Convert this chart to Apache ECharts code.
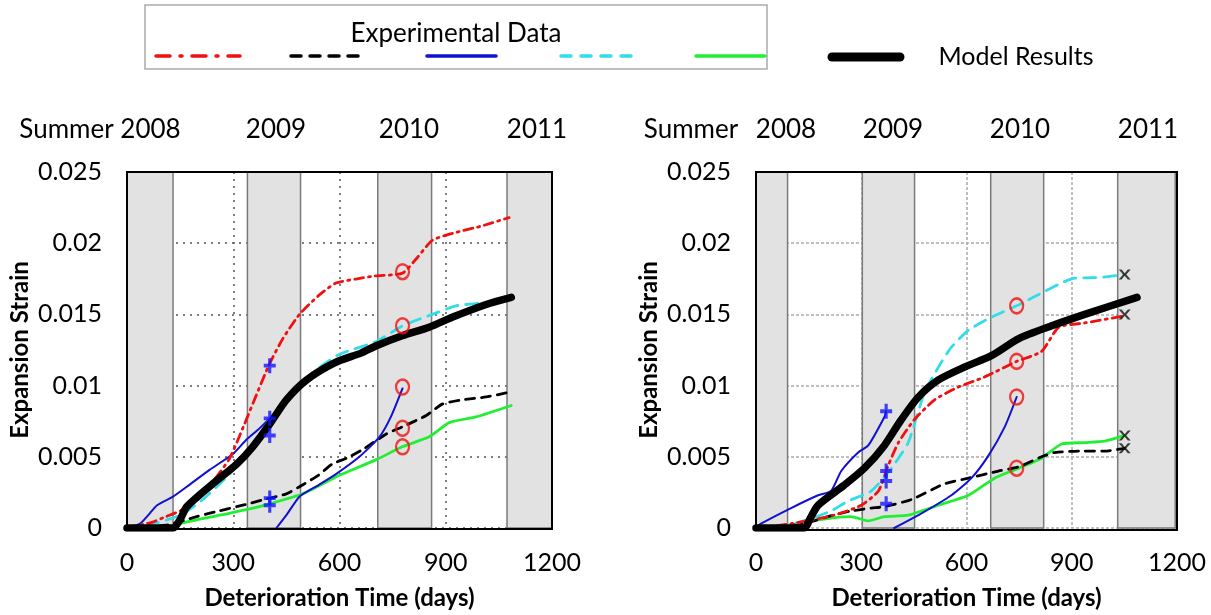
<!DOCTYPE html>
<html><head><meta charset="utf-8">
<script src="https://cdn.jsdelivr.net/npm/echarts@6/dist/echarts.min.js"></script>
<style>html,body{margin:0;padding:0;background:#fff}#c{width:1211px;height:615px}</style>
</head><body><div id="c"></div>
<script>
// ---------- data ----------
const yTickValues = [0, 0.005, 0.01, 0.015, 0.02, 0.025];
const xTickValues = [0, 300, 600, 900, 1200];
const leftTopLabels = ['Summer 2008', '2009', '2010', '2011'];
const rightTopLabels = ['Summer', '2008', '2009', '2010', '2011'];

const leftBands = [[0,130],[340,490],[708,860],[1073,1200]];
const rightBands = [[0,90],[303,452],[669,820],[1031,1195]];

const leftRed = [[0,0],[70,0.0004],[110,0.0008],[150,0.0012],[200,0.002],[250,0.0035],[290,0.0049],[330,0.0072],[400,0.0114],[440,0.0133],[487,0.015],[540,0.0163],[590,0.0172],[650,0.0175],[700,0.0177],[778,0.0179],[820,0.019],[862,0.0202],[920,0.0207],[1000,0.0212],[1079,0.0218]];
const leftBlack = [[0,0],[110,0.0002],[197,0.0008],[260,0.0012],[327,0.0016],[403,0.0021],[450,0.0024],[487,0.0029],[540,0.0037],[580,0.0045],[620,0.0049],[665,0.0055],[732,0.0066],[777,0.0071],[845,0.0079],[890,0.0087],[946,0.009],[1014,0.0092],[1073,0.0095]];
const leftBlue1 = [[0,0],[37,0.0003],[60,0.0009],[85,0.0016],[130,0.0022],[169,0.0029],[234,0.0041],[299,0.0052],[337,0.0062],[370,0.0069],[403,0.0077]];
const leftBlue2 = [[422,0],[450,0.0009],[487,0.0022],[540,0.003],[591,0.0038],[656,0.005],[713,0.0064],[745,0.0078],[778,0.0098]];
const leftCyan = [[0,0],[60,0.0002],[150,0.0009],[214,0.002],[290,0.0038],[350,0.0057],[420,0.0082],[480,0.0099],[540,0.0112],[600,0.0122],[704,0.0131],[778,0.0142],[862,0.015],[929,0.0156],[1000,0.0158],[1079,0.016]];
const leftGreen = [[130,0],[149,0.0003],[262,0.0009],[340,0.0013],[403,0.0017],[496,0.0024],[591,0.0036],[704,0.0048],[777,0.0057],[853,0.0064],[910,0.0074],[986,0.0078],[1085,0.0086]];
const leftModel = [[0,0],[130,0],[150,0.0006],[169,0.0015],[242,0.0031],[310,0.0045],[355,0.0057],[403,0.0073],[450,0.009],[507,0.0104],[586,0.0116],[662,0.0123],[704,0.0128],[777,0.0135],[853,0.0141],[918,0.0148],[1014,0.0157],[1085,0.0162]];
const leftPlus = [[403,0.0114],[403,0.0077],[403,0.0065],[403,0.0021],[403,0.0016]];
const leftCircle = [[778,0.018],[778,0.0142],[778,0.0099],[778,0.007],[778,0.0057]];

const rightRed = [[0,0],[100,0.0003],[223,0.0009],[300,0.0016],[349,0.0026],[377,0.0044],[406,0.006],[451,0.0076],[509,0.009],[577,0.0099],[651,0.0106],[743,0.0117],[814,0.0124],[863,0.0141],[937,0.0144],[1051,0.0149]];
const rightBlack = [[60,0],[150,0.0004],[205,0.0008],[271,0.0012],[329,0.0014],[366,0.0015],[443,0.002],[537,0.0031],[606,0.0035],[691,0.004],[749,0.0043],[814,0.005],[851,0.0053],[929,0.0054],[994,0.0054],[1051,0.0056]];
const rightBlue1 = [[0,0],[14,0.0003],[100,0.0014],[177,0.0023],[214,0.0026],[243,0.004],[291,0.0053],[320,0.0058],[366,0.0078],[371,0.0082]];
const rightBlue2 = [[394,0],[463,0.0009],[557,0.0023],[614,0.0035],[663,0.0051],[709,0.0071],[743,0.0092]];
const rightCyan = [[60,0],[150,0.0006],[214,0.0012],[263,0.0019],[329,0.0026],[386,0.0042],[434,0.006],[480,0.0095],[520,0.0113],[557,0.0127],[606,0.0139],[671,0.0148],[743,0.0156],[806,0.0164],[900,0.0175],[986,0.0176],[1051,0.0178]];
const rightGreen = [[60,0],[157,0.0005],[271,0.0008],[320,0.0005],[366,0.0008],[434,0.0009],[520,0.0016],[606,0.0023],[680,0.0035],[749,0.0042],[814,0.0049],[871,0.0059],[937,0.006],[994,0.0061],[1051,0.0065]];
const rightModel = [[0,0],[137,0],[155,0.0007],[177,0.0016],[251,0.003],[309,0.0042],[366,0.0058],[414,0.0076],[463,0.0092],[520,0.0104],[594,0.0113],[671,0.0121],[749,0.0133],[843,0.0142],[937,0.015],[1086,0.0162]];
const rightPlus = [[371,0.0082],[371,0.004],[371,0.0033],[371,0.0017]];
const rightCircle = [[743,0.0156],[743,0.0117],[743,0.0092],[743,0.0042]];
const rightCross = [[1051,0.0178],[1051,0.015],[1051,0.0065],[1051,0.0056]];

// ---------- styles ----------
const FONT = 'Lato';
const RED = '#f01010', BLUE = '#1010d0', CYAN = '#30dde8', GREEN = '#22ee33';
const PLUS = 'path://M-1.3,-5H1.3V-1.3H5V1.3H1.3V5H-1.3V1.3H-5V-1.3H-1.3Z';
const CROSS = 'path://M0,0L2.4,0L5,3L7.6,0L10,0L6.3,4L10,8L7.6,8L5,5L2.4,8L0,8L3.7,4Z';

function lineS(data, idx, color, width, type, z, smooth) {
  return {type:'line', data, xAxisIndex:idx, yAxisIndex:idx, showSymbol:false, smooth:smooth||0.2,
    lineStyle:{color, width, type:type||'solid', cap:'round', join:'round'}, z:z||3, silent:true, animation:false};
}
function scat(data, idx, symbol, size, style, z) {
  return {type:'scatter', data, xAxisIndex:idx, yAxisIndex:idx, symbol, symbolSize:size,
    itemStyle:style, z:z||6, silent:true, animation:false};
}
function bands(list, idx) {
  return {type:'line', data:[], xAxisIndex:idx, yAxisIndex:idx, silent:true, z:1, animation:false,
    markArea:{silent:true, itemStyle:{color:'#e2e2e2', borderColor:'#7a7a7a', borderWidth:1.5},
      data:list.map(b=>[{xAxis:b[0]},{xAxis:b[1]}])}};
}
function xAx(idx, gridColor, gridType) {
  return {type:'value', gridIndex:idx, min:0, max:1200, interval:300,
    name:'Deterioration Time (days)', nameLocation:'middle', nameGap:58,
    nameTextStyle:{fontFamily:FONT, fontWeight:'bold', fontSize:24, color:'#000'},
    axisLine:{show:false}, axisTick:{show:false},
    axisLabel:{fontFamily:FONT, fontSize:25, color:'#000', margin:22, formatter:v=>String(v)},
    splitLine:{show:true, lineStyle:{color:gridColor, type:gridType, width:1.5}}};
}
function yAx(idx, gridColor, gridType) {
  return {type:'value', gridIndex:idx, min:0, max:0.025, interval:0.005,
    name:'Expansion Strain', nameLocation:'middle', nameGap:95,
    nameTextStyle:{fontFamily:FONT, fontWeight:'bold', fontSize:24, color:'#000'},
    axisLine:{show:false}, axisTick:{show:false},
    axisLabel:{fontFamily:FONT, fontSize:25, color:'#000', margin:25,
      formatter:v=>String(+v.toFixed(3))},
    splitLine:{show:true, lineStyle:{color:gridColor, type:gridType, width:1.5}}};
}
function panel(idx, d) {
  return [
    bands(d.bands, idx),
    lineS(d.green, idx, GREEN, 2.8, 'solid', 3),
    lineS(d.black, idx, '#000', 2.8, [9,7], 3),
    lineS(d.blue1, idx, BLUE, 2, 'solid', 3),
    lineS(d.blue2, idx, BLUE, 2, 'solid', 3),
    lineS(d.cyan, idx, CYAN, 2.8, [12,8], 3),
    lineS(d.red, idx, RED, 2.8, [9,5,2,5], 3),
    lineS(d.model, idx, '#000', 7.5, 'solid', 5, 0.25),
    scat(d.plus, idx, PLUS, [12,15], {color:'#1515ff'}),
    scat(d.circle, idx, 'circle', [13,15], {color:'rgba(0,0,0,0)', borderColor:RED, borderWidth:2.4})
  ];
}

const series = [
  ...panel(0, {bands:leftBands, red:leftRed, black:leftBlack, blue1:leftBlue1, blue2:leftBlue2,
    cyan:leftCyan, green:leftGreen, model:leftModel, plus:leftPlus, circle:leftCircle}),
  ...panel(1, {bands:rightBands, red:rightRed, black:rightBlack, blue1:rightBlue1, blue2:rightBlue2,
    cyan:rightCyan, green:rightGreen, model:rightModel, plus:rightPlus, circle:rightCircle}),
  scat(rightCross, 1, CROSS, [12,10], {color:'#111'})
];

// legend + top labels as graphic text
const txt = (x, y, s, size) => ({type:'text', x, y, silent:true, z:50,
  style:{text:s, fontFamily:FONT, fontSize:size||26, fill:'#000', align:'center', verticalAlign:'middle'}});
const seg = (x1, x2, y, color, w, dash) => ({type:'line', silent:true, z:50,
  shape:{x1, y1:y, x2, y2:y}, style:{stroke:color, lineWidth:w, lineDash:dash||null, lineCap:'round'}});
const box = (x, y, w, h, stroke, lw) => ({type:'rect', silent:true, z:60,
  shape:{x, y, width:w, height:h}, style:{fill:null, stroke, lineWidth:lw}});

const leftTopX = [100, 276, 409, 537];
const rightTopX = [691, 786, 893, 1020, 1148];

const graphic = [
  box(145, 5, 622, 64, '#aaa', 1.5),
  txt(456, 34, 'Experimental Data', 26),
  seg(156, 240, 56, RED, 3.5, [14,10,2,10]),
  seg(291, 361, 56, '#000', 3.5, [10,9]),
  seg(427, 496, 56, BLUE, 3.5),
  seg(561, 632, 56, CYAN, 3.5, [10,10]),
  seg(696, 765, 56, GREEN, 3.5),
  seg(832, 900, 57, '#000', 9),
  txt(1016, 57, 'Model Results', 25),
  ...leftTopLabels.map((s,i)=>txt(leftTopX[i], 130, s, 26)),
  ...rightTopLabels.map((s,i)=>txt(rightTopX[i], 130, s, 26)),
  box(127, 172, 425, 357, '#000', 2),
  box(756, 172, 421, 358, '#000', 2)
];

const chart = echarts.init(document.getElementById('c'), null, {renderer:'canvas'});
chart.setOption({
  animation:false,
  backgroundColor:'#fff',
  grid:[
    {left:127, top:172, width:425, height:357, show:true, borderWidth:0, backgroundColor:'#fff', z:0},
    {left:756, top:172, width:421, height:358, show:true, borderWidth:0, backgroundColor:'#fff', z:0}
  ],
  xAxis:[xAx(0,'#555',[2,5]), xAx(1,'#aaa',[3,2])],
  yAxis:[yAx(0,'#555',[2,5]), yAx(1,'#aaa',[3,2])],
  graphic,
  series
});
</script></body></html>
